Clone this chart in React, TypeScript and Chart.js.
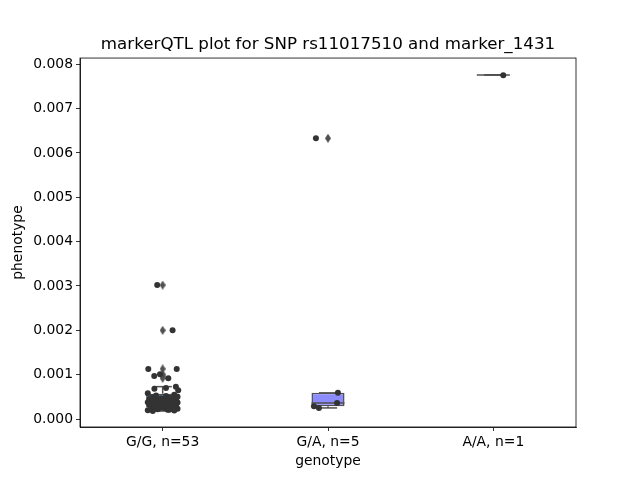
import React, { useEffect, useRef } from "react";
import { Chart, registerables } from "chart.js";

Chart.register(...registerables);

const categories = ["G/G, n=53", "G/A, n=5", "A/A, n=1"];
const yTickValues = [0, 0.001, 0.002, 0.003, 0.004, 0.005, 0.006, 0.007, 0.008];

const ggValues = [
  0.00302, 0.002, 0.00113, 0.00113, 0.00101, 0.00097, 0.00092, 0.00073, 0.0007, 0.00068, 0.00065,
  0.00058, 0.00055, 0.00053, 0.00052, 0.0005, 0.00049, 0.00048, 0.00047, 0.00046, 0.00045,
  0.00044, 0.00043, 0.00042, 0.00041, 0.0004, 0.0004, 0.00039, 0.00038, 0.00037, 0.00036,
  0.00035, 0.00035, 0.00034, 0.00033, 0.00032, 0.00031, 0.0003, 0.0003, 0.00029, 0.00028,
  0.00027, 0.00026, 0.00025, 0.00024, 0.00023, 0.00022, 0.00021, 0.0002, 0.00019, 0.00018,
  0.00021, 0.00024,
];
const ggJitter = [
  -0.033, 0.06, -0.087, 0.085, -0.016, -0.051, 0.034, 0.08, 0.02, -0.05, 0.094,
  -0.09, 0.07, -0.04, 0.02, 0.09, -0.06, 0.04, -0.01, 0.06, -0.08,
  0.01, -0.05, 0.08, -0.03, 0.05, -0.07, 0.03, -0.09, 0.09, 0.0,
  -0.02, 0.07, -0.06, 0.04, -0.08, 0.02, 0.06, -0.04, 0.08, -0.01,
  -0.07, 0.05, 0.01, -0.05, 0.09, -0.03, 0.03, -0.09, 0.07, -0.06,
  0.04, -0.02,
];
const gaValues = [0.00633, 0.00059, 0.00036, 0.00029, 0.00025];
const gaJitter = [-0.073, 0.06, 0.055, -0.085, -0.055];
const aaValues = [0.00775];
const aaJitter = [0.06];

const boxQ1 = [0.00026, 0.00029, 0.00776];
const boxMedian = [0.00038, 0.00036, 0.00776];
const boxQ3 = [0.00057, 0.00059, 0.00776];
const whiskerLow = [0.00018, 0.00025, 0.00776];
const whiskerHigh = [0.00073, 0.00059, 0.00776];
const ggFliers = [0.00302, 0.002, 0.00113, 0.00101, 0.00097, 0.00092];
const gaFliers = [0.00633];
const aaFliers: number[] = [];

const boxColors = ["#3a9be0", "#8c8cff", "#8fd18f"];
const lineGray = "#505050";
const pointColor = "#333333";
const FONT = "DejaVu Sans";

function makeDiamond(): HTMLCanvasElement {
  const c = document.createElement("canvas");
  c.width = 6;
  c.height = 9;
  const g = c.getContext("2d")!;
  g.fillStyle = lineGray;
  g.beginPath();
  g.moveTo(3, 0);
  g.lineTo(6, 4.5);
  g.lineTo(3, 9);
  g.lineTo(0, 4.5);
  g.closePath();
  g.fill();
  return c;
}

const framePlugin = {
  id: "frame",
  afterLayout(chart: any) {
    const tb = chart.titleBlock;
    if (tb) {
      tb.left = chart.chartArea.left;
      tb.right = chart.chartArea.right;
    }
  },
  afterDraw(chart: any) {
    const { ctx, chartArea } = chart;
    ctx.save();
    ctx.strokeStyle = "#000";
    ctx.lineWidth = 0.8;
    ctx.strokeRect(chartArea.left, chartArea.top, chartArea.right - chartArea.left, chartArea.bottom - chartArea.top);
    ctx.restore();
  },
};

export default function App() {
  const ref = useRef<HTMLCanvasElement | null>(null);

  useEffect(() => {
    document.body.style.margin = "0";
    if (!ref.current) return;
    const diamond = makeDiamond();
    const seg = (pts: { x: number; y: number }[]) => ({
      type: "line" as const,
      data: pts,
      borderColor: lineGray,
      borderWidth: 1.5,
      pointRadius: 0,
      showLine: true,
      fill: false,
      order: 2,
    });
    const lineSets: any[] = [];
    categories.forEach((_, i) => {
      const cap = 0.055;
      lineSets.push(seg([{ x: i, y: whiskerLow[i] }, { x: i, y: boxQ1[i] }]));
      lineSets.push(seg([{ x: i, y: boxQ3[i] }, { x: i, y: whiskerHigh[i] }]));
      lineSets.push(seg([{ x: i - cap, y: whiskerLow[i] }, { x: i + cap, y: whiskerLow[i] }]));
      lineSets.push(seg([{ x: i - cap, y: whiskerHigh[i] }, { x: i + cap, y: whiskerHigh[i] }]));
      lineSets.push(seg([{ x: i - 0.1, y: boxMedian[i] }, { x: i + 0.1, y: boxMedian[i] }]));
    });
    const fliers = [ggFliers, gaFliers, aaFliers];
    const flierData = fliers.flatMap((arr, i) => arr.map((v) => ({ x: i, y: v })));
    const groups = [
      [ggValues, ggJitter],
      [gaValues, gaJitter],
      [aaValues, aaJitter],
    ];
    const stripData = groups.flatMap(([vals, jit], i) => vals.map((v, k) => ({ x: i + jit[k], y: v })));

    const chart = new Chart(ref.current, {
      type: "scatter",
      data: {
        datasets: [
          {
            type: "bar",
            data: categories.map((_, i) => ({ x: i, y: [boxQ1[i], boxQ3[i]] })) as any,
            backgroundColor: boxColors,
            borderColor: lineGray,
            borderWidth: 1.5,
            borderSkipped: false,
            barPercentage: 0.2,
            categoryPercentage: 1,
            order: 3,
          } as any,
          ...lineSets,
          {
            type: "scatter",
            data: flierData,
            pointStyle: diamond,
            pointRadius: 4,
            order: 1,
          } as any,
          {
            type: "scatter",
            data: stripData,
            backgroundColor: pointColor,
            borderWidth: 0,
            pointRadius: 3,
            order: 0,
          } as any,
        ],
      },
      options: {
        animation: false,
        responsive: false,
        events: [],
        layout: { padding: { left: 0, right: 64, top: 0, bottom: 0 } },
        plugins: {
          legend: { display: false },
          tooltip: { enabled: false },
          title: {
            display: true,
            text: "markerQTL plot for SNP rs11017510 and marker_1431",
            color: "#000",
            font: { family: FONT, size: 16.7, weight: "normal" },
            padding: { top: 35, bottom: 3 },
          },
        },
        scales: {
          x: {
            type: "linear",
            min: -0.5,
            max: 2.5,
            offset: false,
            afterBuildTicks: (s: any) => {
              s.ticks = categories.map((_, i) => ({ value: i }));
            },
            afterFit: (s: any) => {
              s.height = 53;
            },
            ticks: {
              callback: (v: any) => categories[Math.round(Number(v))],
              color: "#000",
              font: { family: FONT, size: 13.9 },
              padding: 3,
              maxRotation: 0,
            },
            grid: { offset: false, drawOnChartArea: false, drawTicks: true, tickLength: 4, color: "#000", lineWidth: 0.8 },
            border: { display: true, color: "#000", width: 0.8 },
            title: {
              display: true,
              text: "genotype",
              color: "#000",
              font: { family: FONT, size: 13.9 },
              padding: { top: 0, bottom: 10 },
            },
          },
          y: {
            type: "linear",
            min: -0.00018,
            max: 0.00814,
            afterBuildTicks: (s: any) => {
              s.ticks = yTickValues.map((v) => ({ value: v }));
            },
            afterFit: (s: any) => {
              s.width = 80;
            },
            ticks: {
              callback: (v: any) => Number(v).toFixed(3),
              color: "#000",
              font: { family: FONT, size: 13.9 },
              padding: 3,
            },
            grid: { drawOnChartArea: false, drawTicks: true, tickLength: 4, color: "#000", lineWidth: 0.8 },
            border: { display: true, color: "#000", width: 0.8 },
            title: {
              display: true,
              text: "phenotype",
              color: "#000",
              font: { family: FONT, size: 13.9 },
              padding: { top: 10, bottom: 0 },
            },
          },
        },
      },
      plugins: [framePlugin],
    } as any);
    return () => chart.destroy();
  }, []);

  return (
    <div style={{ width: 640, height: 480 }}>
      <canvas ref={ref} width={640} height={480} />
    </div>
  );
}
